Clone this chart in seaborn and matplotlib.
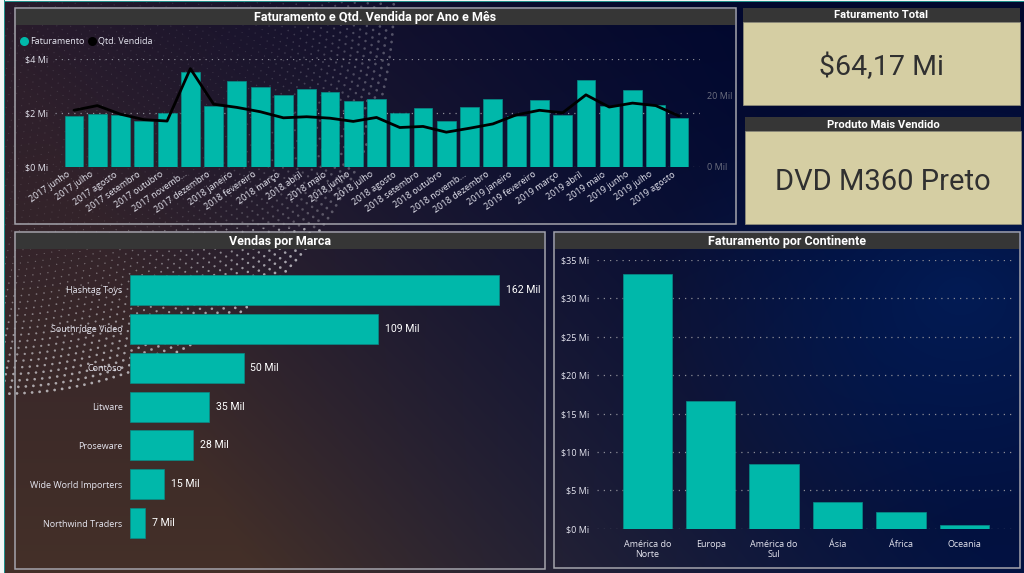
# Dashboard de vendas: faturamento, marcas e continentes
import numpy as np
import pandas as pd
import seaborn as sns
import matplotlib.pyplot as plt
from matplotlib.patches import Rectangle
from matplotlib.transforms import ScaledTranslation

# dados
meses = ['2017 junho', '2017 julho', '2017 agosto', '2017 setembro', '2017 outubro', '2017 novemb...',
         '2017 dezembro', '2018 janeiro', '2018 fevereiro', '2018 março', '2018 abril', '2018 maio',
         '2018 junho', '2018 julho', '2018 agosto', '2018 setembro', '2018 outubro', '2018 novemb...',
         '2018 dezembro', '2019 janeiro', '2019 fevereiro', '2019 março', '2019 abril', '2019 maio',
         '2019 junho', '2019 julho', '2019 agosto']
faturamento = [1.89, 1.98, 1.92, 1.72, 1.99, 3.53, 2.27, 3.20, 2.98, 2.69, 2.90, 2.77, 2.46, 2.53,
               2.02, 2.18, 1.71, 2.24, 2.53, 1.91, 2.50, 1.93, 3.22, 2.28, 2.85, 2.30, 1.81]
qtd_vendida = [15.8, 17.1, 14.7, 13.2, 12.8, 27.4, 17.5, 16.6, 15.4, 13.7, 14.0, 13.6, 12.7, 13.8,
               11.0, 11.3, 9.7, 10.8, 12.0, 14.5, 15.8, 15.1, 20.1, 16.7, 17.8, 17.1, 14.2]
marcas = ['Hashtag Toys', 'Southridge Video', 'Contoso', 'Litware', 'Proseware',
          'Wide World Importers', 'Northwind Traders']
vendas_marca = [162, 109, 50, 35, 28, 15, 7]
continentes = ['América do\nNorte', 'Europa', 'América do\nSul', 'Ásia', 'África', 'Oceania']
fat_continente = [33.13, 16.67, 8.42, 3.43, 2.13, 0.43]

W, H = 1024, 573
TEAL = '#00B8AA'
EDGE = '#088C86'
TICK = '#E6E6F0'
GRID = '#8C8C96'
FONT = ['Open Sans', 'DejaVu Sans']
TITLE_FONT = ['Roboto', 'DejaVu Sans']
TAM = 6.5

sns.set_theme(style='dark')
plt.rcParams['font.family'] = FONT
plt.rcParams['axes.facecolor'] = 'none'


def fundo():
    # gradiente marrom -> azul, com o arco de pontos no canto
    yy, xx = np.mgrid[0:H, 0:W]
    xn, yn = xx / W, yy / H
    t = np.clip((xn * 1.35 - yn * 0.35 + 0.02), 0, 1)[..., None]
    b = yn[..., None]
    esq = np.array([42, 28, 44]) * (1 - b) + np.array([68, 48, 40]) * b
    dir_ = np.array([2, 8, 46]) * (1 - b) + np.array([2, 18, 66]) * b
    img = esq * (1 - t) ** 1.3 + dir_ * (1 - (1 - t) ** 1.3)
    d = np.hypot((xx - 960) / 300, (yy - 290) / 230)
    img = img + np.clip(1 - d, 0, 1)[..., None] * np.array([0, 14, 28])

    r = np.hypot(xx, yy)
    theta = np.arctan2(yy, xx)
    passo = 6.5
    anel = np.floor(r / passo)
    s = theta * anel * passo
    dist = np.hypot(r % passo - passo / 2, (s + anel * 3.5) % 7.5 - 3.75)
    f = np.clip((r - 250) / 145, 0, 1)
    raio = 0.5 + 0.85 * f
    ponto = np.clip(raio + 0.5 - dist, 0, 1) * (0.3 + 0.45 * f)
    ponto[r > 396] = 0
    # no painel de cima os pontos quase somem
    ponto[yy < 228] *= 0.45
    ponto = ponto[..., None]
    img = img * (1 - ponto) + np.array([215, 215, 220]) * ponto
    return np.clip(img, 0, 255).astype(np.uint8)


def eixo(x0, y0, x1, y1):
    # eixo posicionado em pixels da imagem
    return fig.add_axes([x0 / W, 1 - y1 / H, (x1 - x0) / W, (y1 - y0) / H])


def painel(x0, y0, x1, y1, titulo):
    bg.add_patch(Rectangle((x0, y0), x1 - x0, y1 - y0, fill=False, ec='#A4A4AC', lw=1.1))
    bg.add_patch(Rectangle((x0 + 1, y0 + 1), x1 - x0 - 2, 16, fc='#363636', ec='none'))
    bg.text((x0 + x1) / 2, y0 + 9, titulo, color='white', ha='center', va='center',
            fontsize=9.0, fontweight='bold', family=TITLE_FONT)


def cartao(x0, y0, x1, y1, barra, titulo, valor, tamanho):
    bg.add_patch(Rectangle((x0, y0), x1 - x0, barra, fc='#363636', ec='none'))
    bg.add_patch(Rectangle((x0, y0 + barra), x1 - x0, y1 - y0 - barra, fc='#D5CEA3', ec='#8E8C7A', lw=0.6))
    bg.text((x0 + x1) / 2, y0 + barra / 2 + 0.5, titulo, color='white', ha='center', va='center',
            fontsize=8.1, fontweight='bold', family=TITLE_FONT)
    bg.text((x0 + x1) / 2, (y0 + barra + y1) / 2 + 4, valor, color='#303030', ha='center', va='center',
            fontsize=tamanho, family=TITLE_FONT)


def limpa(ax):
    sns.despine(ax=ax, left=True, bottom=True, right=True, top=True)
    ax.set_xlabel('')
    ax.set_ylabel('')
    ax.tick_params(length=0, colors=TICK, labelsize=TAM)


def grade(ax):
    ax.set_axisbelow(True)
    ax.yaxis.grid(True, color=GRID, lw=0.9, linestyle=(0, (1, 4)))
    ax.xaxis.grid(False)


fig = plt.figure(figsize=(W / 100, H / 100), dpi=100)
bg = fig.add_axes([0, 0, 1, 1])
bg.imshow(fundo(), extent=(0, W, H, 0), aspect='auto', zorder=0)
bg.set_xlim(0, W)
bg.set_ylim(H, 0)
bg.axis('off')
bg.add_patch(Rectangle((0, 0), 4, H, fc='#F4F6F6', ec='none'))
bg.add_patch(Rectangle((0, 0), W, 1, fc='#F4F6F6', ec='none'))
bg.add_patch(Rectangle((4, 0), 1.4, H, fc='#1F8F8A', ec='none'))
bg.add_patch(Rectangle((4, 1), W, 1.2, fc='#1F8F8A', ec='none'))

painel(15, 8, 736, 224, 'Faturamento e Qtd. Vendida por Ano e Mês')
painel(15, 232, 545, 569, 'Vendas por Marca')
painel(554, 232, 1020, 568, 'Faturamento por Continente')
cartao(743, 8, 1020, 105, 14, 'Faturamento Total', '$64,17 Mi', 20.5)
cartao(745, 117, 1021, 224, 14, 'Produto Mais Vendido', 'DVD M360 Preto', 21)

# legenda
bg.scatter([24], [41], s=30, color=TEAL, zorder=3)
bg.text(30, 41, 'Faturamento', color=TICK, fontsize=TAM, va='center')
bg.scatter([92], [41], s=30, color='black', zorder=3)
bg.text(98, 41, 'Qtd. Vendida', color=TICK, fontsize=TAM, va='center')

# faturamento e quantidade por mês
df_mes = pd.DataFrame({'mes': meses, 'fat': faturamento, 'qtd': qtd_vendida})
ax = eixo(55, 59.3, 700, 167)
sns.barplot(data=df_mes, x='mes', y='fat', color=TEAL, width=0.81, saturation=1,
            edgecolor=EDGE, linewidth=0.5, ax=ax)
ax.set_xlim((55 - 74) / 23.27, (700 - 74) / 23.27)
ax.set_ylim(0, 4)
ax.set_yticks([0, 2, 4], ['$0 Mi', '$2 Mi', '$4 Mi'])
limpa(ax)
grade(ax)
ax.tick_params(axis='x', labelsize=TAM, pad=2)
plt.setp(ax.get_xticklabels(), rotation=35, ha='right', rotation_mode='anchor')
desvio = ScaledTranslation(-7 / 100, 0, fig.dpi_scale_trans)
for rotulo in ax.get_xticklabels():
    rotulo.set_transform(rotulo.get_transform() + desvio)
ax.tick_params(axis='y', pad=5)

ax2 = ax.twinx()
sns.lineplot(data=df_mes, x='mes', y='qtd', color='black', lw=2, sort=False, errorbar=None, ax=ax2)
ax2.set_xlim(ax.get_xlim())
ax2.set_ylim(0, 30)
ax2.set_yticks([0, 20], ['0 Mil', '20 Mil'])
ax2.grid(False)
limpa(ax2)
ax2.tick_params(axis='y', colors='#6E7080', pad=5)

# vendas por marca
df_marca = pd.DataFrame({'marca': marcas, 'vendas': vendas_marca})
ax3 = eixo(129.5, 251, 545, 562)
sns.barplot(data=df_marca, y='marca', x='vendas', color=TEAL, width=0.77, saturation=1,
            edgecolor=EDGE, linewidth=0.5, ax=ax3)
ax3.set_xlim(0, (545 - 129.5) / 2.28)
ax3.set_ylim((562 - 290) / 38.85, (251 - 290) / 38.85)
ax3.set_xticks([])
limpa(ax3)
ax3.tick_params(axis='y', pad=5)
ax3.bar_label(ax3.containers[0], labels=[f'{v} Mil' for v in vendas_marca], padding=5,
              color='white', fontsize=7.6, family=TITLE_FONT)

# faturamento por continente
df_cont = pd.DataFrame({'continente': continentes, 'fat': fat_continente})
ax4 = eixo(597, 260, 1016, 528.7)
sns.barplot(data=df_cont, x='continente', y='fat', color=TEAL, width=0.78, saturation=1,
            edgecolor=EDGE, linewidth=0.5, ax=ax4)
ax4.set_xlim((597 - 647.3) / 63.4, (1016 - 647.3) / 63.4)
ax4.set_ylim(0, 35)
ax4.set_yticks(range(0, 40, 5), [f'${v} Mi' for v in range(0, 40, 5)])
limpa(ax4)
grade(ax4)
ax4.tick_params(axis='x', pad=8)
ax4.tick_params(axis='y', pad=5.5)

fig.savefig('out.png', dpi=100)
